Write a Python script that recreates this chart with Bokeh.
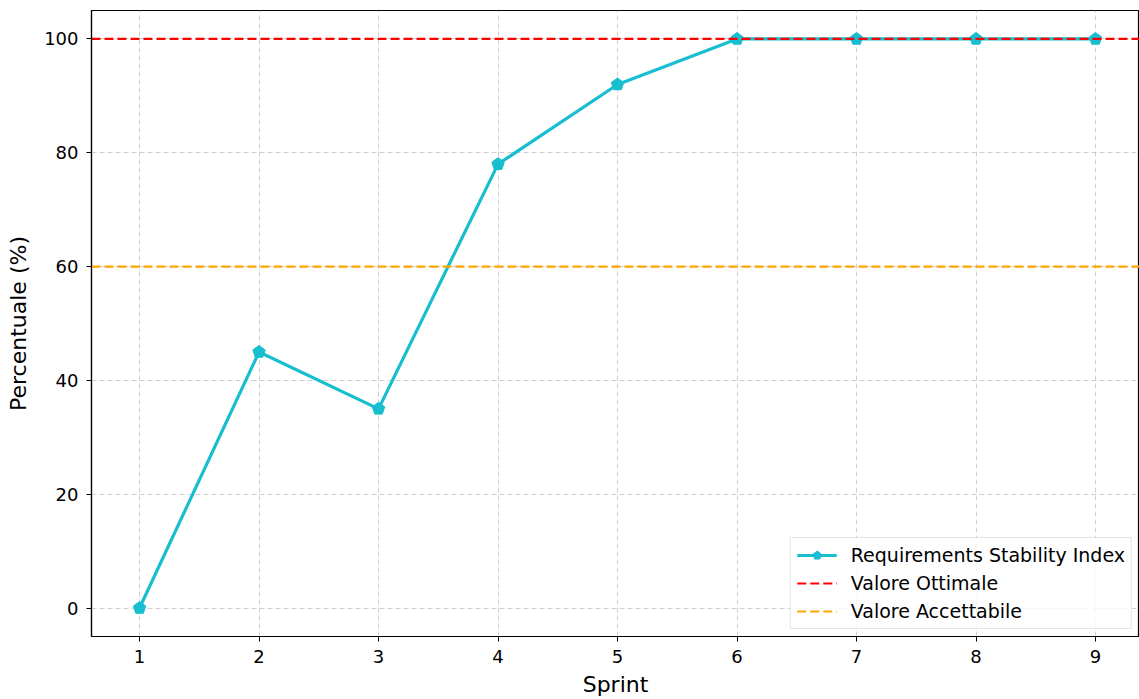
from bokeh.plotting import figure
from bokeh.models import Range1d, FixedTicker, Legend, LegendItem
from bokeh.embed import file_html
from bokeh.resources import INLINE

sprints = [1, 2, 3, 4, 5, 6, 7, 8, 9]
rsi = [0, 45, 35, 78, 92, 100, 100, 100, 100]
optimal = 100
acceptable = 60

X0, X1 = 0.598, 9.368

p = figure(width=1139, height=699, output_backend="svg", toolbar_location=None,
           x_range=Range1d(X0, X1), y_range=Range1d(-5, 105),
           min_border_left=91, min_border_right=0, min_border_top=10, min_border_bottom=62)

p.xaxis.ticker = FixedTicker(ticks=sprints)
p.yaxis.ticker = FixedTicker(ticks=[0, 20, 40, 60, 80, 100])
for ax in (p.xaxis[0], p.yaxis[0]):
    ax.major_label_text_font = "DejaVu Sans"
    ax.major_label_text_font_size = "18px"
    ax.major_label_text_color = "black"
    ax.axis_label_text_font = "DejaVu Sans"
    ax.axis_label_text_font_size = "22px"
    ax.axis_label_text_font_style = "normal"
    ax.axis_label_text_color = "black"
    ax.minor_tick_line_color = None
    ax.major_tick_out = 5
    ax.major_tick_in = 0
    ax.axis_line_color = "black"
    ax.major_tick_line_color = "black"
    ax.axis_line_width = 1.2
p.xaxis.axis_label = "Sprint"
p.yaxis.axis_label = "Percentuale (%)"
p.xaxis.axis_label_standoff = 6
p.yaxis.axis_label_standoff = 10
p.xaxis.major_label_standoff = 8
p.yaxis.major_label_standoff = 8

p.outline_line_color = "black"
p.outline_line_width = 1.2
p.xgrid.grid_line_color = "#b0b0b0"
p.ygrid.grid_line_color = "#b0b0b0"
p.xgrid.grid_line_alpha = 0.6
p.ygrid.grid_line_alpha = 0.6
p.xgrid.grid_line_dash = "5 3"
p.ygrid.grid_line_dash = "5 3"

r_line = p.line(sprints, rsi, line_color="#17becf", line_width=3.2)
r_mark = p.ngon(x=sprints, y=rsi, radius=6.5, radius_units="screen", n=5, angle=0,
                fill_color="#17becf", line_color="#17becf")
r_opt = p.line([X0, X1], [optimal, optimal], line_color="red", line_width=2.2, line_dash="9 4")
r_acc = p.line([X0, X1], [acceptable, acceptable], line_color="orange", line_width=2.2, line_dash="9 4")

legend = Legend(items=[
    LegendItem(label="Requirements Stability Index", renderers=[r_line, r_mark]),
    LegendItem(label="Valore Ottimale", renderers=[r_opt]),
    LegendItem(label="Valore Accettabile", renderers=[r_acc]),
], location="bottom_right")
legend.label_text_font = "DejaVu Sans"
legend.label_text_font_size = "19px"
legend.label_text_color = "black"
legend.label_height = 22
legend.glyph_width = 40
legend.glyph_height = 22
legend.spacing = 6
legend.padding = 6
legend.margin = 7
legend.label_standoff = 14
legend.border_line_color = "#cccccc"
legend.background_fill_alpha = 0.8
p.add_layout(legend, "center")

open("out.html", "w").write(file_html(p, INLINE))
